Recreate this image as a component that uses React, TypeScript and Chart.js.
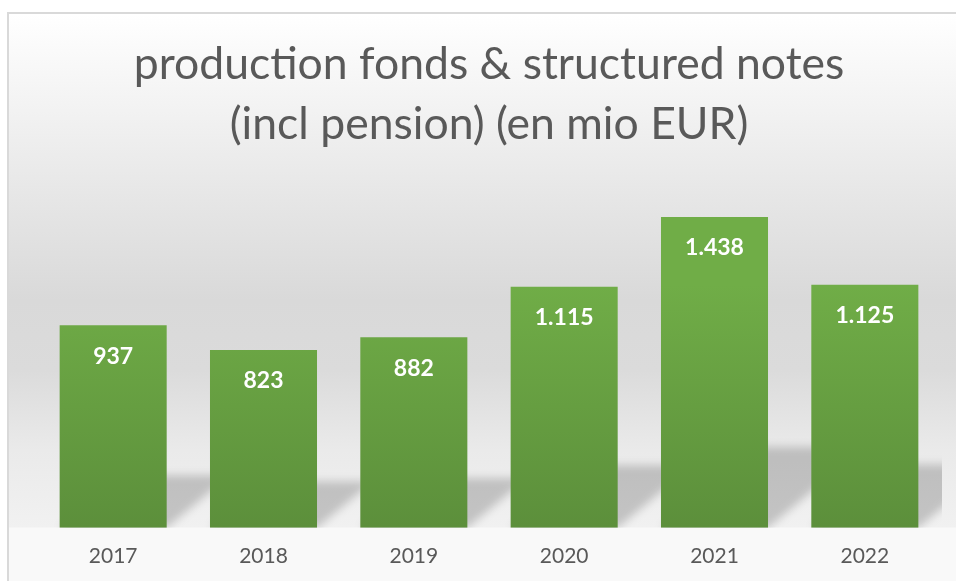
import React, { useEffect, useRef } from "react";
import { Chart, registerables } from "chart.js";

Chart.register(...registerables);

const categories = ["2017", "2018", "2019", "2020", "2021", "2022"];
const values = [937, 823, 882, 1115, 1438, 1125];
const valueLabels = ["937", "823", "882", "1.115", "1.438", "1.125"];
const titleLines = ["production fonds & structured notes", "(incl pension) (en mio EUR)"];
const yMax = 1600;

const FONT = "Lato, 'Open Sans', sans-serif";

const backgroundPlugin = {
  id: "bgFrame",
  beforeDraw(chart: any) {
    const { ctx, width, height, chartArea } = chart;
    if (!chartArea) return;
    const floor = chartArea.bottom;
    const top = 14;
    ctx.save();
    ctx.fillStyle = "#ffffff";
    ctx.fillRect(0, 0, width, height);
    const g = ctx.createLinearGradient(0, top, 0, floor);
    const span = floor - top;
    const stop = (y: number) => Math.min(1, Math.max(0, (y - top) / span));
    g.addColorStop(0, "#ffffff");
    g.addColorStop(stop(200), "#e6e6e6");
    g.addColorStop(stop(300), "#d9d9d9");
    g.addColorStop(stop(370), "#dbdbdb");
    g.addColorStop(stop(450), "#eaeaea");
    g.addColorStop(1, "#f1f1f1");
    ctx.fillStyle = g;
    ctx.fillRect(9, top, width - 9, span);
    ctx.fillStyle = "#f9f9f9";
    ctx.fillRect(9, floor, width - 9, height - floor);
    ctx.fillStyle = "#d9d9d9";
    ctx.fillRect(7, 12, width - 7, 2);
    ctx.fillRect(7, 12, 2, height - 12);
    ctx.restore();
  },
};

const shadowPlugin = {
  id: "barShadow",
  beforeDatasetsDraw(chart: any) {
    const { ctx, chartArea } = chart;
    const meta = chart.getDatasetMeta(0);
    ctx.save();
    ctx.beginPath();
    ctx.rect(chartArea.left, chartArea.top, chartArea.right - chartArea.left + 2, chartArea.bottom - chartArea.top);
    ctx.clip();
    ctx.filter = "blur(4px)";
    ctx.fillStyle = "rgba(0,0,0,0.19)";
    meta.data.forEach((bar: any) => {
      const { x, y, base, width } = bar.getProps(["x", "y", "base", "width"], true);
      const h = base - y;
      const sh = h * 0.26;
      const dx = sh * 1.2;
      const xl = x - width / 2;
      const xr = x + width / 2;
      ctx.beginPath();
      ctx.moveTo(xl, base);
      ctx.lineTo(xr, base);
      ctx.lineTo(xr + dx, base - sh);
      ctx.lineTo(xl + dx, base - sh);
      ctx.closePath();
      ctx.fill();
    });
    ctx.restore();
    meta.data.forEach((bar: any) => {
      const { y, base } = bar.getProps(["y", "base"], true);
      if (!Number.isFinite(y) || !Number.isFinite(base)) return;
      const g = ctx.createLinearGradient(0, y, 0, base);
      g.addColorStop(0, "#70ad47");
      g.addColorStop(1, "#5c8f3b");
      bar.options.backgroundColor = g;
    });
  },
};

const labelPlugin = {
  id: "valueLabels",
  afterDatasetsDraw(chart: any) {
    const { ctx } = chart;
    const meta = chart.getDatasetMeta(0);
    ctx.save();
    ctx.fillStyle = "#ffffff";
    ctx.font = `bold 23px ${FONT}`;
    ctx.textAlign = "center";
    ctx.textBaseline = "middle";
    meta.data.forEach((bar: any, i: number) => {
      const { x, y } = bar.getProps(["x", "y"], true);
      ctx.fillText(valueLabels[i], x, y + 31);
    });
    ctx.restore();
  },
};

export default function App() {
  const ref = useRef<HTMLCanvasElement | null>(null);
  useEffect(() => {
    document.body.style.margin = "0";
    const canvas = ref.current!;
    const chart = new Chart(canvas, {
      type: "bar",
      data: {
        labels: categories,
        datasets: [
          {
            data: values,
            backgroundColor: "#66a043",
            borderWidth: 0,
            barPercentage: 0.712,
            categoryPercentage: 1,
          },
        ],
      },
      options: {
        animation: false,
        responsive: false,
        maintainAspectRatio: false,
        layout: { padding: { left: 38, right: 16, top: 0, bottom: -4 } },
        plugins: {
          legend: { display: false },
          tooltip: { enabled: false },
          title: {
            display: true,
            text: titleLines,
            color: "#595959",
            font: { family: FONT, size: 44.5, weight: "normal", lineHeight: 60 / 44.5 },
            padding: { top: 35, bottom: 27 },
          },
        },
        scales: {
          x: {
            grid: { display: false, drawTicks: false },
            border: { display: false },
            ticks: { color: "#595959", font: { family: FONT, size: 21 }, padding: 16 },
          },
          y: { display: false, min: 0, max: yMax },
        },
      },
      plugins: [backgroundPlugin, shadowPlugin, labelPlugin],
    });
    return () => chart.destroy();
  }, []);
  return <canvas ref={ref} width={956} height={581} style={{ display: "block" }} />;
}
